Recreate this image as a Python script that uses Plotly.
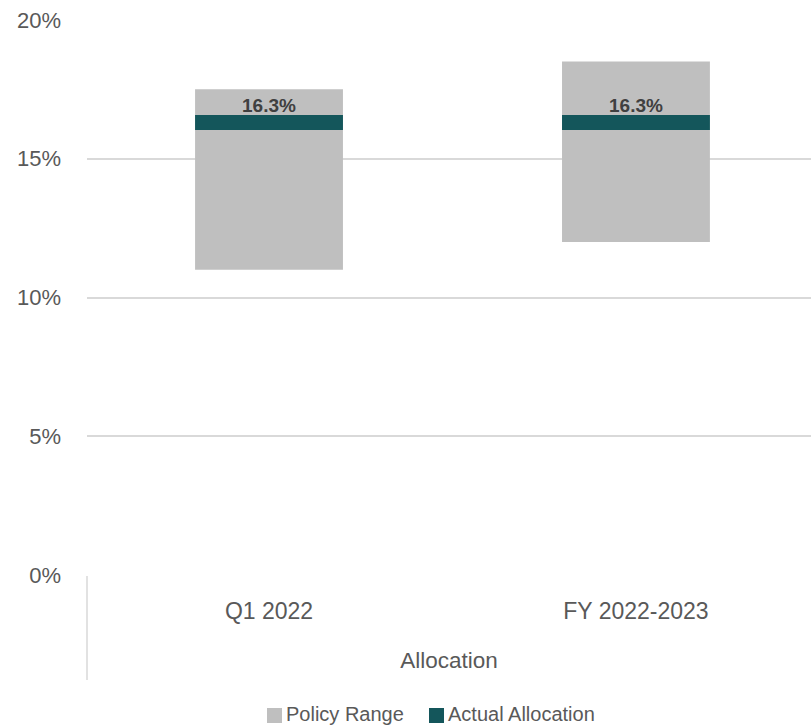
import plotly.graph_objects as go

categories = ["Q1 2022", "FY 2022-2023"]
range_low = [11.0, 12.0]
range_high = [17.5, 18.5]
actual = [16.3, 16.3]
y_ticks = [0, 5, 10, 15, 20]
legend_names = ["Policy Range", "Actual Allocation"]

GRAY = "#bfbfbf"
TEAL = "#14565b"
TXT = "#595959"
FONT = "Liberation Sans, Arial, sans-serif"

W, H = 811, 728
L, R, T, B = 87, 0, 19, 152
PW, PH = W - L - R, H - T - B


def px(x):
    return (x - L) / PW


def py(y):
    return (H - B - y) / PH


bar_w = 0.403
thick = 0.54

fig = go.Figure()
fig.add_trace(go.Bar(
    x=categories, y=[h - l for h, l in zip(range_high, range_low)], base=range_low,
    width=bar_w, marker=dict(color=GRAY, line=dict(width=0)), name=legend_names[0],
    hoverinfo="skip", showlegend=False))
fig.add_trace(go.Bar(
    x=categories, y=[thick] * len(actual), base=[a - thick / 2 for a in actual],
    width=bar_w, marker=dict(color=TEAL, line=dict(width=0)), name=legend_names[1],
    hoverinfo="skip", showlegend=False))

for c, a in zip(categories, actual):
    fig.add_annotation(x=c, y=a, text=f"<b>{a:.1f}%</b>", showarrow=False,
                       yanchor="bottom", yshift=5,
                       font=dict(family=FONT, size=19, color="#404040"))

# multi-level category divider at left
fig.add_shape(type="line", xref="paper", yref="paper", x0=0, x1=0, y0=0, y1=py(680),
              line=dict(color="#d9d9d9", width=1.5))

# custom legend
leg = [(267, 285, GRAY, legend_names[0]), (429, 446.5, TEAL, legend_names[1])]
for sx, tx, col, name in leg:
    fig.add_shape(type="rect", xref="paper", yref="paper",
                  x0=px(sx), x1=px(sx + 15), y0=py(723), y1=py(708),
                  fillcolor=col, line=dict(width=0))
    fig.add_annotation(xref="paper", yref="paper", x=px(tx), y=py(714), text=name,
                       showarrow=False, xanchor="left", yanchor="middle", borderpad=0,
                       font=dict(family=FONT, size=20, color=TXT))

fig.update_layout(
    width=W, height=H,
    margin=dict(l=L, r=R, t=T, b=B),
    paper_bgcolor="white", plot_bgcolor="white",
    barmode="overlay",
    font=dict(family=FONT, color=TXT, size=22),
    showlegend=False,
    xaxis=dict(range=[-0.496, 1.477], showgrid=False, zeroline=False, showline=False,
               ticks="", ticklabelstandoff=19, tickfont=dict(size=23, color=TXT),
               title=dict(text="Allocation", standoff=29, font=dict(size=22.5, color=TXT))),
    yaxis=dict(range=[-0.03, 20.03], tickvals=y_ticks, ticktext=[f"{v}%" for v in y_ticks],
               showgrid=True, gridcolor="#d9d9d9", gridwidth=1.5, zeroline=False,
               showline=False, ticks="", ticklabelstandoff=25,
               tickfont=dict(size=22, color=TXT)),
)

fig.write_html("out.html")
